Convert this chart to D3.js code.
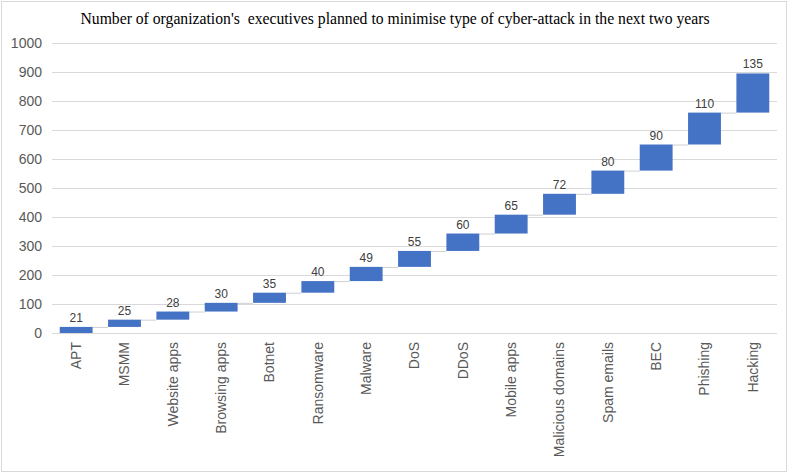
<!DOCTYPE html>
<html><head><meta charset="utf-8">
<script src="https://cdn.jsdelivr.net/npm/d3@7"></script>
<style>body{margin:0;background:#fff}</style>
</head><body>
<svg id="c" width="789" height="474"></svg>
<script>
const categories = ["APT","MSMM","Website apps","Browsing apps","Botnet","Ransomware","Malware","DoS","DDoS","Mobile apps","Malicious domains","Spam emails","BEC","Phishing","Hacking"];
const values = [21,25,28,30,35,40,49,55,60,65,72,80,90,110,135];
const yTicks = [0,100,200,300,400,500,600,700,800,900,1000];
const title = "Number of organization's  executives planned to minimise type of cyber-attack in the next two years";

const svg = d3.select("#c");
svg.append("rect").attr("x",1.5).attr("y",1.5).attr("width",785).attr("height",470)
  .attr("fill","#fff").attr("stroke","#d9d9d9");

const m = {l:52, r:777, t:43, b:333};
const x = d3.scaleBand().domain(categories).range([m.l,m.r]).paddingInner(0.32).paddingOuter(0.16);
const y = d3.scaleLinear().domain([0,1000]).range([m.b,m.t]);

let cum = 0;
const data = categories.map((c,i)=>{const s=cum; cum+=values[i]; return {c, v:values[i], s, e:cum};});

svg.append("text").attr("x",395).attr("y",24).attr("text-anchor","middle")
  .attr("font-family","'Liberation Serif','Times New Roman',serif").attr("font-size",15.7)
  .style("white-space","pre").attr("fill","#000").text(title);

// gridlines
svg.append("g").selectAll("line").data(yTicks).join("line")
  .attr("x1",m.l).attr("x2",m.r).attr("y1",d=>Math.round(y(d))+0.5).attr("y2",d=>Math.round(y(d))+0.5)
  .attr("stroke","#d9d9d9").attr("stroke-width",1);

// y axis labels
const ya = svg.append("g").attr("transform",`translate(${m.l},0)`)
  .call(d3.axisLeft(y).tickValues(yTicks).tickFormat(d3.format("d")).tickSize(0).tickPadding(10));
ya.select(".domain").remove();
ya.selectAll("text").attr("font-family","'Liberation Sans',Arial,sans-serif").attr("font-size",14).attr("fill","#595959");

// connectors
svg.append("g").selectAll("line").data(data.slice(0,-1)).join("line")
  .attr("x1",d=>x(d.c)+x.bandwidth()).attr("x2",(d,i)=>x(categories[i+1]))
  .attr("y1",d=>y(d.e)+0.5).attr("y2",d=>y(d.e)+0.5)
  .attr("stroke","#d0d0d0").attr("stroke-width",1);

// bars
svg.append("g").selectAll("rect").data(data).join("rect")
  .attr("x",d=>x(d.c)).attr("width",x.bandwidth())
  .attr("y",d=>y(d.e)).attr("height",d=>y(d.s)-y(d.e)).attr("fill","#4472C4");

// data labels
svg.append("g").selectAll("text").data(data).join("text")
  .attr("x",d=>x(d.c)+x.bandwidth()/2).attr("y",d=>y(d.e)-5)
  .attr("text-anchor","middle").attr("font-family","'Liberation Sans',Arial,sans-serif")
  .attr("font-size",12).attr("fill","#404040").text(d=>d.v);

// x axis
const xa = svg.append("g").attr("transform",`translate(0,${m.b})`)
  .call(d3.axisBottom(x).tickSize(0).tickPadding(0));
xa.select(".domain").remove();
xa.selectAll("text").attr("font-family","'Liberation Sans',Arial,sans-serif").attr("font-size",14).attr("fill","#595959")
  .attr("text-anchor","end").attr("transform","translate(0,9) rotate(-90)").attr("dx",0).attr("dy","0.35em").attr("y",0).attr("x",0);
</script>
</body></html>
